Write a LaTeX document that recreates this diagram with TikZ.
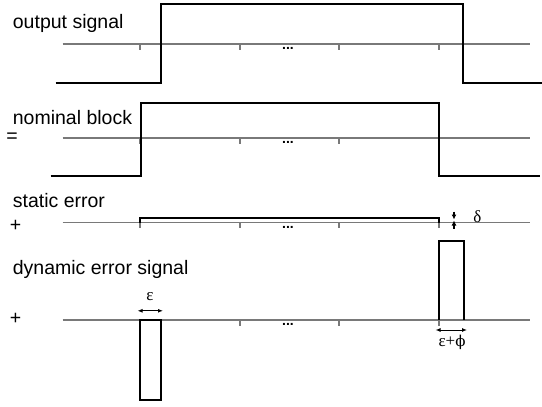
\documentclass[tikz,border=0pt]{standalone}
\usepackage{fontspec}
\setmainfont{Liberation Sans}
\newfontfamily\grk{Liberation Serif}
\newfontfamily\grkphi{DejaVu Serif}
\usetikzlibrary{arrows.meta}
\begin{document}
\begin{tikzpicture}[x=1pt,y=-1pt,
  axisline/.style={draw=gray!95!black,line width=1.8pt},
  tickline/.style={draw=gray!95!black,line width=1.6pt},
  sig/.style={draw=black,line width=2pt,line join=miter},
  lbl/.style={anchor=base west,inner sep=0pt,font=\fontsize{19.5}{22}\selectfont},
  sgn/.style={inner sep=0pt,font=\fontsize{19.5}{22}\selectfont},
  dots/.style={anchor=base,inner sep=0pt,font=\fontsize{14}{16}\selectfont\bfseries},
  grklbl/.style={inner sep=0pt,font=\fontsize{17}{20}\selectfont\grk},
  dim/.style={line width=1pt,{Latex[length=5pt,width=4pt]}-{Latex[length=5pt,width=4pt]}},
  dimone/.style={line width=1.2pt,-{Latex[length=5pt,width=5pt]}}
]
\useasboundingbox (0,0) rectangle (542,407);

% axes and ticks
\foreach \ay/\nm in {44/a,138/b,222.5/c,320/d}{
  \coordinate (\nm L) at (62.5,\ay);
  \coordinate (\nm R) at (530,\ay);
  \draw[axisline] (\nm L) -- (\nm R);
  \foreach \tx in {140,240,339,439}{
    \draw[tickline] (\tx,\ay) -- ++(0,5.5);
  }
  \node[dots] (dots\nm) at (288,\ay+5.5) {...};
}

% labels
\node[lbl] (l1) at (12.7,28) {output signal};
\node[lbl] (l2) at (12.7,124) {nominal block};
\node[lbl] (l3) at (12.7,207) {static error};
\node[lbl] (l4) at (12.7,274) {dynamic error signal};
\node[sgn] (eq) at (12,138) {=};
\node[sgn] (p1) at (15.5,226) {+};
\node[sgn] (p2) at (15.5,319) {+};

% output signal
\draw[sig] (55.7,83.3) -- (161,83.3) -- (161,4.3) -- (463,4.3) -- (463,83.3) -- (542,83.3);
% nominal block
\draw[sig] (50.7,175.5) -- (140.5,175.5) -- (140.5,103.2) -- (439,103.2) -- (439,175.5) -- (540,175.5);
% static error
\draw[sig,line width=1.8pt] (140,222.5) -- (140,218) -- (439,218) -- (439,222.5);
% delta marker
\coordinate (dtop) at (454,211.5);
\coordinate (dtopend) at (454,219.5);
\coordinate (dbot) at (454,228.5);
\coordinate (dbotend) at (454,220.5);
\draw[dimone] (dtop) -- (dtopend);
\draw[dimone] (dbot) -- (dbotend);
\node[grklbl] (delta) at (477.5,216.5) {δ};

% dynamic error pulses
\draw[sig] (140,320) rectangle (160.7,400);
\draw[sig] (439.3,320) -- (439.3,241) -- (464.3,241) -- (464.3,320);

% epsilon
\coordinate (e1) at (137.5,310.8);
\coordinate (e2) at (163,310.8);
\draw[dim] (e1) -- (e2);
\node[grklbl] (eps) at (150,297) {ε};
% epsilon + phi
\coordinate (f1) at (435.5,330);
\coordinate (f2) at (467,330);
\draw[dim] (f1) -- (f2);
\node[grklbl] (epsphi) at (452,342) {ε+{\grkphi\fontsize{15}{18}\selectfont ϕ}};
\end{tikzpicture}
\end{document}
